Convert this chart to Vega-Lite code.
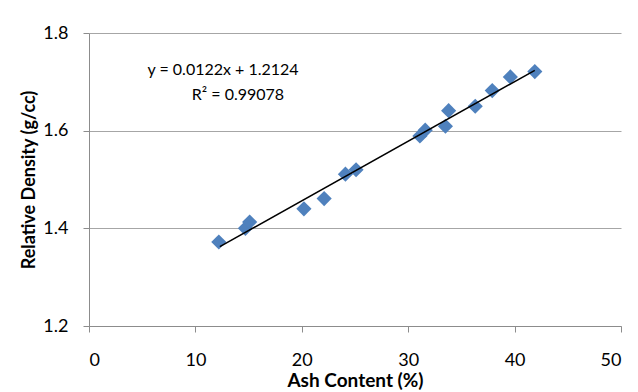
{
  "$schema": "https://vega.github.io/schema/vega-lite/v6.json",
  "width": 532,
  "height": 293,
  "autosize": "none",
  "padding": {"left": 89, "top": 33, "right": 17, "bottom": 66},
  "background": "white",
  "config": {
    "view": {"stroke": null},
    "font": "Lato",
    "axis": {
      "labelFont": "Lato",
      "titleFont": "Lato",
      "labelColor": "#000000",
      "titleColor": "#000000",
      "domainColor": "#8c8c8c",
      "tickColor": "#8c8c8c",
      "gridColor": "#a6a6a6",
      "labelFontSize": 18,
      "titleFontSize": 18,
      "titleFontWeight": "bold",
      "tickSize": 6
    }
  },
  "datasets": {
    "points": [
      {"ash": 12.2, "density": 1.372},
      {"ash": 14.7, "density": 1.400},
      {"ash": 15.1, "density": 1.413},
      {"ash": 20.2, "density": 1.440},
      {"ash": 22.1, "density": 1.461},
      {"ash": 24.1, "density": 1.511},
      {"ash": 25.1, "density": 1.520},
      {"ash": 31.1, "density": 1.589},
      {"ash": 31.6, "density": 1.601},
      {"ash": 33.5, "density": 1.609},
      {"ash": 33.8, "density": 1.641},
      {"ash": 36.3, "density": 1.650},
      {"ash": 37.9, "density": 1.682},
      {"ash": 39.6, "density": 1.710},
      {"ash": 41.9, "density": 1.721}
    ],
    "trend": [
      {"ash": 12.3, "density": 1.3625},
      {"ash": 41.9, "density": 1.7236}
    ],
    "labels": [
      {"ash": 12.6, "density": 1.724, "text": "y = 0.0122x + 1.2124"},
      {"ash": 14.0, "density": 1.674, "text": "R² = 0.99078"}
    ]
  },
  "layer": [
    {
      "data": {"name": "points"},
      "mark": {"type": "point", "shape": "diamond", "filled": true, "size": 230, "color": "#4F81BD", "opacity": 1},
      "encoding": {
        "x": {
          "field": "ash", "type": "quantitative",
          "scale": {"domain": [0, 50], "nice": false, "zero": false},
          "axis": {"values": [0, 10, 20, 30, 40, 50], "grid": false, "title": "Ash Content (%)", "titleFontSize": 19, "labelPadding": 19, "titlePadding": 2}
        },
        "y": {
          "field": "density", "type": "quantitative",
          "scale": {"domain": [1.2, 1.8], "nice": false, "zero": false},
          "axis": {"values": [1.2, 1.4, 1.6, 1.8], "format": ".1f", "grid": true, "title": "Relative Density (g/cc)", "labelPadding": 15, "titlePadding": 4}
        }
      }
    },
    {
      "data": {"name": "trend"},
      "mark": {"type": "line", "color": "#000000", "strokeWidth": 1.5},
      "encoding": {
        "x": {"field": "ash", "type": "quantitative"},
        "y": {"field": "density", "type": "quantitative"}
      }
    },
    {
      "data": {"name": "labels"},
      "mark": {"type": "text", "font": "Lato", "fontSize": 16, "color": "#000000", "align": "center", "baseline": "middle"},
      "encoding": {
        "x": {"field": "ash", "type": "quantitative"},
        "y": {"field": "density", "type": "quantitative"},
        "text": {"field": "text"}
      }
    }
  ]
}
